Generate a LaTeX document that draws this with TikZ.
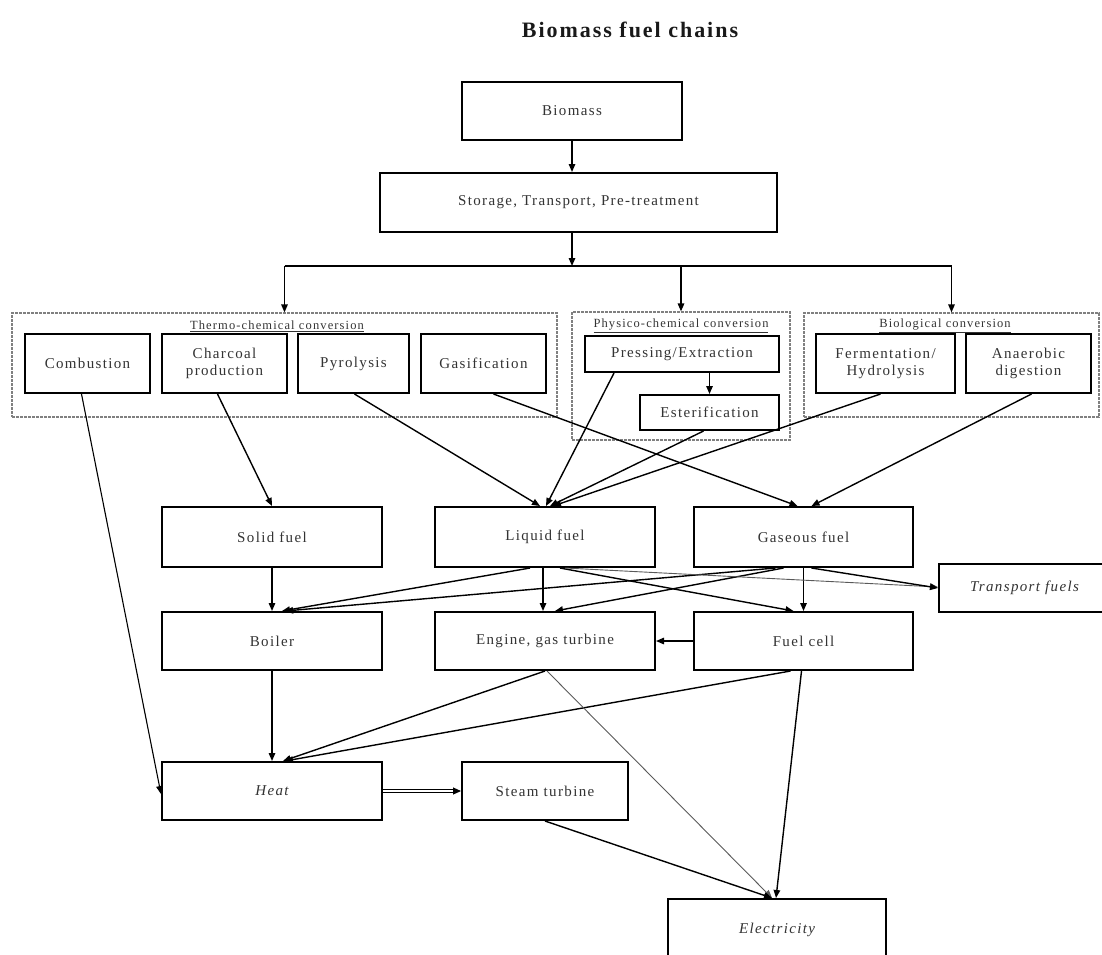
\documentclass[tikz,border=0pt]{standalone}
\usepackage{fontspec}
\setmainfont{Liberation Serif}[LetterSpace=9]
\usetikzlibrary{arrows.meta}
\begin{document}
\begin{tikzpicture}[x=1pt,y=-1pt,
  box/.style={draw=black,line width=2pt,fill=white,inner sep=0pt,align=center,
    text=black!80,font=\fontsize{15}{20}\selectfont},
  grp/.style={draw=black!50,line width=1.2pt,dash pattern=on 3pt off 1pt,inner sep=0pt},
  glab/.style={inner sep=0pt,text=black!80,font=\fontsize{12.5}{14}\selectfont},
  arr/.style={line width=1.4pt,-{Triangle[length=8pt,width=6.5pt]}},
  thin/.style={line width=0.9pt,draw=black!65,-{Triangle[length=8pt,width=6.5pt]}}
]
\useasboundingbox (0,0) rectangle (1102,954);
% title
\node[font=\fontsize{22}{26}\selectfont\bfseries,text=black!90] (title) at (630,30) {Biomass fuel chains};
% top
\node[box,minimum width=220pt,minimum height=58pt] (biomass) at (572,111) {Biomass};
\node[box,minimum width=397pt,minimum height=59pt] (storage) at (578.5,202.5) {Storage, Transport, Pre-treatment};
% groups
\node[grp,minimum width=545pt,minimum height=104pt] (thermo) at (284.5,365) {};
\node[grp,minimum width=218pt,minimum height=128pt] (physico) at (681,376) {};
\node[grp,minimum width=295pt,minimum height=104pt] (bio) at (951.5,365) {};
\node[glab] (thermolab) at (277,326) {\underline{Thermo-chemical conversion}};
\node[glab] (physicolab) at (681,326) {\underline{Physico-chemical conversion}};
\node[glab] (biolab) at (945,326) {\underline{Biological conversion}};
% conversion boxes
\node[box,minimum width=125pt,minimum height=59pt] (comb) at (87.5,363.5) {Combustion};
\node[box,minimum width=125pt,minimum height=59pt] (charc) at (224.5,363.5) {Charcoal\\[-3pt]production};
\node[box,minimum width=111pt,minimum height=59pt] (pyro) at (353.5,363.5) {Pyrolysis};
\node[box,minimum width=125pt,minimum height=59pt] (gasif) at (483.5,363.5) {Gasification};
\node[box,minimum width=194pt,minimum height=36pt] (press) at (682,354) {Pressing/Extraction};
\node[box,minimum width=139pt,minimum height=35pt] (ester) at (709.5,412.5) {Esterification};
\node[box,minimum width=139pt,minimum height=59pt] (ferm) at (885.5,363.5) {Fermentation/\\[-3pt]Hydrolysis};
\node[box,minimum width=125pt,minimum height=59pt] (anaer) at (1028.5,363.5) {Anaerobic\\[-3pt]digestion};
% fuels
\node[box,minimum width=220pt,minimum height=60pt] (solid) at (272,537) {Solid fuel};
\node[box,minimum width=220pt,minimum height=60pt] (liquid) at (545,537) {Liquid fuel};
\node[box,minimum width=219pt,minimum height=60pt] (gas) at (803.5,537) {Gaseous fuel};
\node[box,minimum width=171pt,minimum height=48pt] (transp) at (1024.5,588) {\itshape Transport fuels};
% conversion tech
\node[box,minimum width=220pt,minimum height=58pt] (boiler) at (272,641) {Boiler};
\node[box,minimum width=220pt,minimum height=58pt] (engine) at (545,641) {Engine, gas turbine};
\node[box,minimum width=219pt,minimum height=58pt] (fcell) at (803.5,641) {Fuel cell};
% outputs
\node[box,minimum width=220pt,minimum height=58pt] (heat) at (272,791) {\itshape Heat};
\node[box,minimum width=166pt,minimum height=58pt] (steam) at (545,791) {Steam turbine};
\node[box,minimum width=218pt,minimum height=61pt] (elec) at (777,929.5) {\itshape Electricity};
% junction
\coordinate (jn) at (572,266);
\coordinate (jl) at (thermo.north |- jn);
\coordinate (jm) at (physico.north |- jn);
\coordinate (jr) at (bio.north |- jn);
% connectors
\draw[arr] (biomass) -- ([xshift=-6.5pt]storage.north);
\draw[arr] ([xshift=-6.5pt]storage.south) -- (jn);
\draw[line width=1.4pt] (jl) -- (jr);
\draw[arr] (jl) -- (thermo.north);
\draw[arr] (jm) -- (physico.north);
\draw[arr] (jr) -- (bio.north);
\draw[arr] (press.south -| ester.north) -- (ester.north);
% to fuels
\draw[arr,line width=1.1pt] ([xshift=-6pt]comb.south) -- ([yshift=-3pt]heat.west);
\draw[arr] ([xshift=-7pt]charc.south) -- (solid.north);
\draw[arr] ([xshift=1pt]pyro.south) -- ([xshift=-5pt]liquid.north);
\draw[arr] ([xshift=10pt]gasif.south) -- ([xshift=-6pt]gas.north);
\draw[arr] ([xshift=-68pt]press.south) -- ([xshift=1pt]liquid.north);
\draw[arr] ([xshift=-6pt]ester.south) -- ([xshift=5pt]liquid.north);
\draw[arr] ([xshift=-5pt]ferm.south) -- ([xshift=8pt]liquid.north);
\draw[arr] ([xshift=3pt]anaer.south) -- ([xshift=8pt]gas.north);
% fuels to tech
\draw[arr] (solid) -- (boiler);
\draw[arr] ([xshift=-2pt]liquid.south) -- ([xshift=-2pt]engine.north);
\draw[arr] ([xshift=-15pt]liquid.south) -- ([xshift=10pt]boiler.north);
\draw[arr] ([xshift=-28pt]gas.south) -- ([xshift=13pt]boiler.north);
\draw[arr] ([xshift=15pt]liquid.south) -- ([xshift=-10pt]fcell.north);
\draw[arr] ([xshift=-20pt]gas.south) -- ([xshift=10pt]engine.north);
\draw[arr] (gas) -- (fcell);
\draw[thin] ([xshift=20pt]liquid.south) -- ([yshift=1pt]transp.west);
\draw[arr] ([xshift=8pt]gas.south) -- (transp.west);
\draw[arr] (fcell.west) -- (engine.east);
% to outputs
\draw[arr] (boiler) -- (heat);
\draw[arr] (engine.south) -- ([xshift=11pt]heat.north);
\draw[arr] ([xshift=-13pt]fcell.south) -- ([xshift=13pt]heat.north);
\draw[thin] ([xshift=2pt]engine.south) -- ([xshift=-5pt]elec.north);
\draw[arr] ([xshift=-2pt]fcell.south) -- ([xshift=-1pt]elec.north);
\draw[line width=1pt,double=white,double distance=1.8pt,-{Triangle[length=8pt,width=7pt]}] (heat.east) -- (steam.west);
\draw[arr] ([xshift=0pt]steam.south) -- ([xshift=-5pt]elec.north);
\end{tikzpicture}
\end{document}
